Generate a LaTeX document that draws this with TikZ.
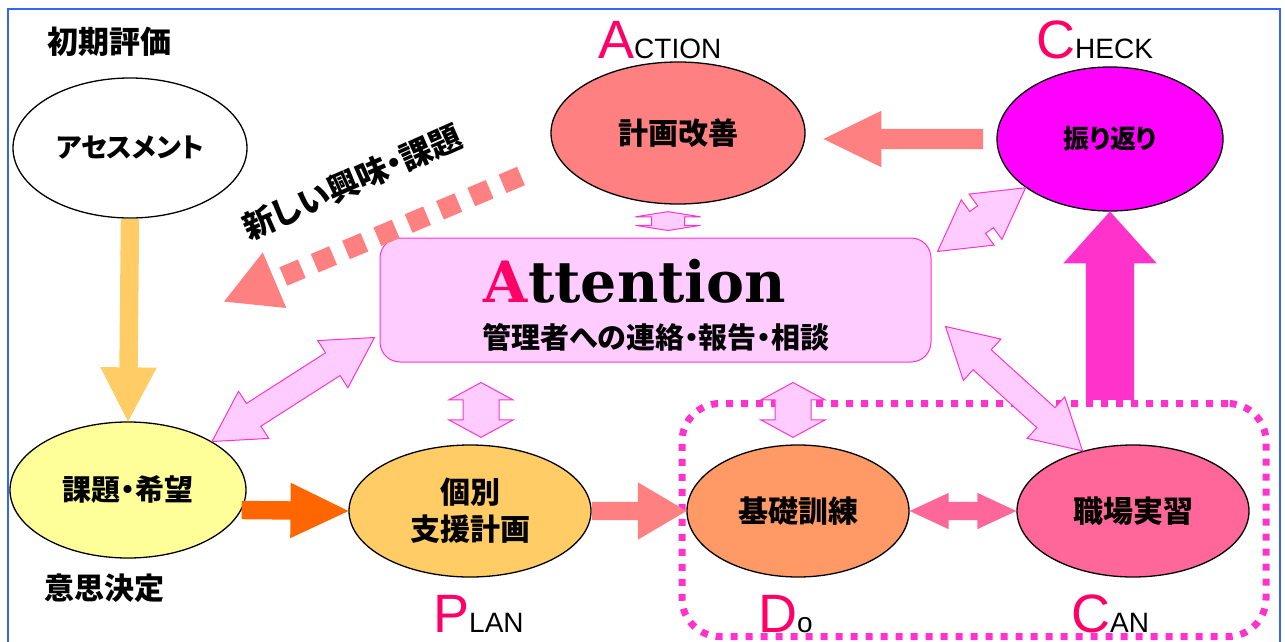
\documentclass[tikz,border=0pt]{standalone}
\usepackage{fontspec}
\newfontfamily\jpfont[RawFeature=+palt]{Noto Sans CJK JP}
\newfontfamily\labfont{Liberation Sans}
\newfontfamily\attfont{DejaVu Serif}
\usetikzlibrary{arrows.meta, calc, shapes.geometric, shapes.arrows}
\definecolor{framecol}{HTML}{3366FF}
\definecolor{pdcared} {HTML}{FF0066}
\definecolor{upcol}   {HTML}{FFCC66}
\definecolor{kadaicol}{HTML}{FFFF99}
\definecolor{gocol}   {HTML}{FF6600}
\definecolor{plancol} {HTML}{FFCC66}
\definecolor{actcol}  {HTML}{FF8080}
\definecolor{docol}   {HTML}{FF9966}
\definecolor{cancol}  {HTML}{FF6699}
\definecolor{checkcol}{HTML}{FF00FF}
\definecolor{groupcol}{HTML}{FF33CC}
\definecolor{attfill} {HTML}{FFCCFF}
\definecolor{attline} {HTML}{FF33CC}
\tikzset{
  bubble/.style={ellipse, draw, line width=1.3pt, inner sep=0pt, align=center, font=\jpfont\bfseries\fontsize{30}{37}\selectfont},
  jtext/.style={inner sep=0pt, font=\jpfont\bfseries\fontsize{30}{32}\selectfont},
  pdca/.style={inner sep=0pt, anchor=base west, font=\labfont\fontsize{28}{30}\selectfont},
  sarrow/.style={single arrow, draw=none, inner sep=0pt, sloped, allow upside down, pos=0, anchor=tail},
  darrow/.style={double arrow, draw=none, inner sep=0pt, sloped, allow upside down},
  lightlink/.style={darrow, fill=attfill, draw=attline, line width=1pt},
  groupbox/.style={rectangle, draw=groupcol, line width=7pt, dash pattern=on 7pt off 8pt, rounded corners=38pt},
  kyomiline/.style={draw=actcol, line width=20pt, dash pattern=on 20pt off 14pt, -{Triangle[width=56pt, length=56pt]}},
}
\newcommand{\pdcahead}[1]{{\color{pdcared}\fontsize{54}{56}\selectfont #1}}
\newcommand{\fatlink}[3]{%
  \path let \p1=($(#3)-(#2)$) in (#2) -- node[#1, minimum height={veclen(\x1,\y1)}] {} (#3);}

\begin{document}
\begin{tikzpicture}[x=1pt, y=-1pt]
  \useasboundingbox (0,0) rectangle (1285,642);
  \clip (0,0) rectangle (1285,642);
  \draw[framecol, line width=2.5pt] (8,9) rectangle (1280,680);

  \node[jtext, font=\jpfont\bfseries\fontsize{31}{32}\selectfont] (shoki) at (109,42) {初期評価};
  \node[jtext] (ishi) at (104,588) {意思決定};
  \node[jtext, rotate=24, font=\jpfont\bfseries\fontsize{32}{34}\selectfont] (kyomi) at (352,182) {新しい興味・課題};

  \node[bubble, fill=white, minimum width=234, minimum height=140, font=\jpfont\bfseries\fontsize{27}{30}\selectfont] (ases) at (130,148) {アセスメント};
  \node[bubble, fill=kadaicol, minimum width=236, minimum height=136, font=\jpfont\bfseries\fontsize{29}{30}\selectfont] (kadai) at (128,490) {課題・希望};
  \node[bubble, fill=plancol, minimum width=242, minimum height=132] (kobetsu) at (470,511) {個別\\支援計画};
  \node[bubble, fill=docol, minimum width=222, minimum height=132] (kiso) at (798,511) {基礎訓練};
  \node[bubble, fill=cancol, minimum width=232, minimum height=132] (shoku) at (1133,511) {職場実習};
  \node[bubble, fill=checkcol, minimum width=226, minimum height=144, font=\jpfont\bfseries\fontsize{26}{30}\selectfont] (furi) at (1110,139) {振り返り};
  \node[bubble, fill=actcol, minimum width=254, minimum height=142] (kai) at (678,133) {計画改善};
  \node[rectangle, rounded corners=20pt, draw=attline, fill=attfill, line width=1pt, minimum width=551, minimum height=124] (att) at (655.5,300) {};
  \node[anchor=base, inner sep=0pt, font=\attfont\bfseries\fontsize{57}{60}\selectfont] (atttitle) at (635,302) {{\color{pdcared}A}ttention};
  \node[jtext, font=\jpfont\bfseries\fontsize{29}{30}\selectfont] (attsub) at (656,337) {管理者への連絡・報告・相談};
  \node[groupbox, minimum width=584, minimum height=233] (dobox) at (974,520) {};

  \node[pdca] (actlab) at (598,59) {\pdcahead{A}CTION};
  \node[pdca] (ckLab) at (1036,59) {\pdcahead{C}HECK};
  \node[pdca] (planlab) at (433,632) {\pdcahead{P}LAN};
  \node[pdca] (dolab) at (758,632) {\pdcahead{D}o};
  \node[pdca] (canlab) at (1071,632) {\pdcahead{C}AN};

  \coordinate (kyomistart) at (521,176);
  \coordinate (kyomitip) at (223,302);
  \draw[kyomiline] (kyomistart) -- (kyomitip);

  \coordinate (kaitop) at ($(kai.south)+(-10,7)$);
  \coordinate (attup) at ($(kai.south |- att.north)+(-10,-7)$);
  \coordinate (attpl) at ($(att.south -| kobetsu.north)+(11,20)$);
  \coordinate (plup) at ($(kobetsu.north)+(11,-7)$);
  \coordinate (attdo) at ($(att.south -| kiso.north)+(-5,20)$);
  \coordinate (doup) at ($(kiso.north)+(-5,-7)$);
  \coordinate (attkd) at ($(att.south west)+(-5,-25)$);
  \coordinate (attck) at ($(att.north east)+(6,14)$);
  \coordinate (attcn) at ($(att.south east)+(14,-36)$);
  \coordinate (ckout) at ($(furi.west)+(-13,0)$);
  \coordinate (acin) at ($(kai.east |- furi.west)+(18,0)$);
  \coordinate (upbase) at (furi.south |- dobox.north);

  \fatlink{sarrow, fill=upcol, inner ysep=9, single arrow head extend=19, single arrow tip angle=55}{ases.south}{kadai.north}
  \fatlink{sarrow, fill=gocol, inner ysep=9, single arrow head extend=18.5, single arrow tip angle=51}{kadai.-10}{kobetsu.west}
  \fatlink{sarrow, fill=actcol, inner ysep=9, single arrow head extend=19.5, single arrow tip angle=61}{kobetsu.east}{kiso.west}
  \fatlink{darrow, fill=cancol, inner ysep=9, double arrow head extend=9, double arrow tip angle=50}{kiso.east}{shoku.west}
  \fatlink{sarrow, fill=groupcol, inner ysep=24, single arrow head extend=22.5, single arrow tip angle=84}{upbase}{furi.south}
  \fatlink{sarrow, fill=actcol, inner ysep=10, single arrow head extend=18, single arrow tip angle=52}{ckout}{acin}
  \fatlink{lightlink, inner ysep=16, double arrow head extend=16, double arrow tip angle=162}{kaitop}{attup}
  \fatlink{lightlink, inner ysep=17.5, double arrow head extend=14, double arrow tip angle=123}{attpl}{plup}
  \fatlink{lightlink, inner ysep=17.5, double arrow head extend=14, double arrow tip angle=123}{attdo}{doup}
  \fatlink{lightlink, inner ysep=13, double arrow head extend=14.5, double arrow tip angle=59}{attkd}{kadai.30}
  \fatlink{lightlink, inner ysep=13, double arrow head extend=14.5, double arrow tip angle=59}{attck}{furi.210}
  \fatlink{lightlink, inner ysep=13, double arrow head extend=14.5, double arrow tip angle=59}{attcn}{shoku.130}
\end{tikzpicture}
\end{document}
